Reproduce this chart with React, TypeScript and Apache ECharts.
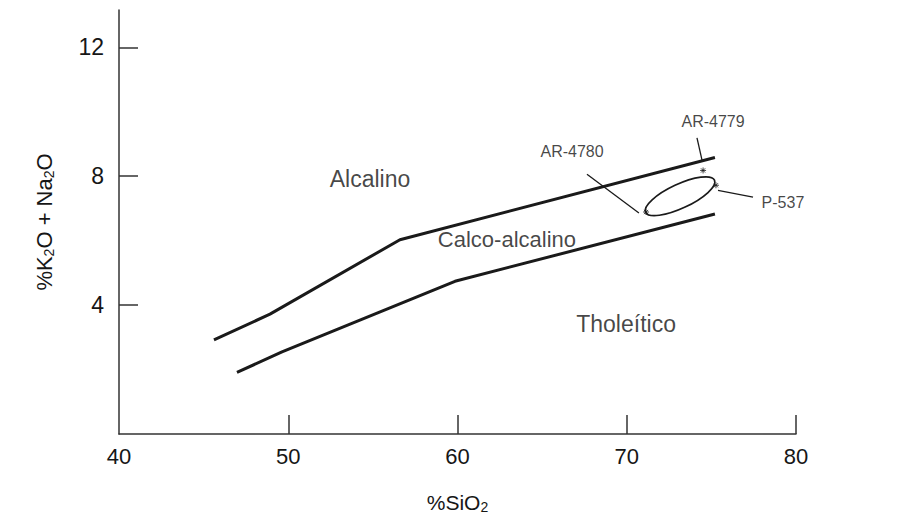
import React, { useEffect, useRef } from "react";
import * as echarts from "echarts";

// Axis ticks
const xTickLabels = [40, 50, 60, 70, 80];
const xTickMarks = [50, 60, 70, 80];
const yTickLabels = [4, 8, 12];

// Boundary lines (%SiO2, %K2O+Na2O)
const boundaryUpper = [
  [45.61, 2.92],
  [48.92, 3.72],
  [56.6, 6.03],
  [75.21, 8.58],
];
const boundaryLower = [
  [46.97, 1.91],
  [49.63, 2.55],
  [59.85, 4.74],
  [75.21, 6.83],
];

// Field names
const fieldNames = ["Alcalino", "Calco-alcalino", "Tholeítico"];
const fieldPos = [
  [54.83, 7.9],
  [62.92, 6.03],
  [69.96, 3.41],
];
const fieldFontSizes = [23, 22, 23];

// Samples
const sampleNames = ["AR-4780", "AR-4779", "P-537"];
const samplePoints = [
  [71.14, 6.89],
  [74.51, 8.18],
  [75.27, 7.72],
];
const sampleLabelPos = [
  [66.77, 8.76],
  [75.1, 9.69],
  [79.23, 7.2],
];
const leaderStart = [
  [67.65, 8.06],
  [74.15, 9.19],
  [75.39, 7.56],
];
const leaderEnd = [
  [70.72, 6.86],
  [74.45, 8.49],
  [77.46, 7.35],
];
const sampleFieldCenter = [73.15, 7.38];

const FONT = "Liberation Sans, Arial, sans-serif";
const INK = "#1a1a1a";
const TEXT = "#161616";

export default function App() {
  const ref = useRef<HTMLDivElement>(null);

  useEffect(() => {
    document.body.style.margin = "0";
    if (!ref.current) return;
    const chart = echarts.init(ref.current, null, { renderer: "svg" });

    const leaderSeries = sampleNames.map((n, i) => ({
      type: "line",
      name: n + "-leader",
      data: [leaderStart[i], leaderEnd[i]],
      showSymbol: false,
      silent: true,
      lineStyle: { color: INK, width: 1.3 },
    }));

    chart.setOption({
      animation: false,
      backgroundColor: "#ffffff",
      grid: { left: 119, right: 101, top: 10, bottom: 81 },
      xAxis: {
        type: "value",
        min: 40,
        max: 80,
        interval: 10,
        name: "%SiO{sub|2}",
        nameLocation: "middle",
        nameGap: 56,
        nameTextStyle: {
          fontFamily: FONT,
          fontSize: 21,
          color: TEXT,
          rich: {
            sub: { fontFamily: FONT, fontSize: 14, color: TEXT, padding: [10, 0, 0, 0] },
          },
        },
        axisLine: { show: true, lineStyle: { color: "#333", width: 1.5 } },
        axisTick: {
          show: true,
          inside: true,
          length: 19,
          customValues: xTickMarks,
          lineStyle: { color: "#333", width: 1.5 },
        },
        axisLabel: {
          customValues: xTickLabels,
          fontFamily: FONT,
          fontSize: 22,
          color: TEXT,
          margin: 11,
        },
        splitLine: { show: false },
      },
      yAxis: {
        type: "value",
        min: 0,
        max: 13.16,
        name: "%K{sub|2}O + Na{sub|2}O",
        nameLocation: "middle",
        nameGap: 63,
        nameRotate: 90,
        nameTextStyle: {
          fontFamily: FONT,
          fontSize: 22,
          color: TEXT,
          rich: {
            sub: { fontFamily: FONT, fontSize: 14, color: TEXT, padding: [10, 0, 0, 0] },
          },
        },
        axisLine: { show: true, lineStyle: { color: "#333", width: 1.5 } },
        axisTick: {
          show: true,
          inside: true,
          length: 19,
          customValues: yTickLabels,
          lineStyle: { color: "#333", width: 1.5 },
        },
        axisLabel: {
          customValues: yTickLabels,
          fontFamily: FONT,
          fontSize: 23,
          color: TEXT,
          margin: 15,
        },
        splitLine: { show: false },
      },
      series: [
        {
          type: "line",
          name: "upper",
          data: boundaryUpper,
          showSymbol: false,
          silent: true,
          lineStyle: { color: INK, width: 3 },
        },
        {
          type: "line",
          name: "lower",
          data: boundaryLower,
          showSymbol: false,
          silent: true,
          lineStyle: { color: INK, width: 3 },
        },
        ...leaderSeries,
        {
          type: "custom",
          name: "sample-field",
          silent: true,
          data: [sampleFieldCenter],
          renderItem: (params: any, api: any) => {
            const p = api.coord([api.value(0), api.value(1)]);
            return {
              type: "ellipse",
              x: p[0],
              y: p[1],
              rotation: (25 * Math.PI) / 180,
              shape: { cx: 0, cy: 0, rx: 38, ry: 12 },
              style: { fill: "none", stroke: INK, lineWidth: 1.7 },
            };
          },
        },
        {
          type: "scatter",
          name: "samples",
          data: samplePoints,
          symbol: "path://M0,5L10,5M5,0L5,10M1.5,1.5L8.5,8.5M8.5,1.5L1.5,8.5",
          symbolSize: 6,
          silent: true,
          itemStyle: { color: "none", borderColor: INK, borderWidth: 1 },
        },
        {
          type: "scatter",
          name: "field-names",
          data: fieldNames.map((n, i) => ({
            name: n,
            value: fieldPos[i],
            label: { fontSize: fieldFontSizes[i] },
          })),
          symbolSize: 0,
          silent: true,
          label: {
            show: true,
            position: "inside",
            formatter: "{b}",
            fontFamily: FONT,
            fontSize: 22,
            color: TEXT,
          },
        },
        {
          type: "scatter",
          name: "sample-names",
          data: sampleNames.map((n, i) => ({ name: n, value: sampleLabelPos[i] })),
          symbolSize: 0,
          silent: true,
          label: {
            show: true,
            position: "inside",
            formatter: "{b}",
            fontFamily: FONT,
            fontSize: 16,
            color: TEXT,
          },
        },
      ],
    });

    return () => chart.dispose();
  }, []);

  return <div ref={ref} style={{ width: 897, height: 519 }} />;
}
